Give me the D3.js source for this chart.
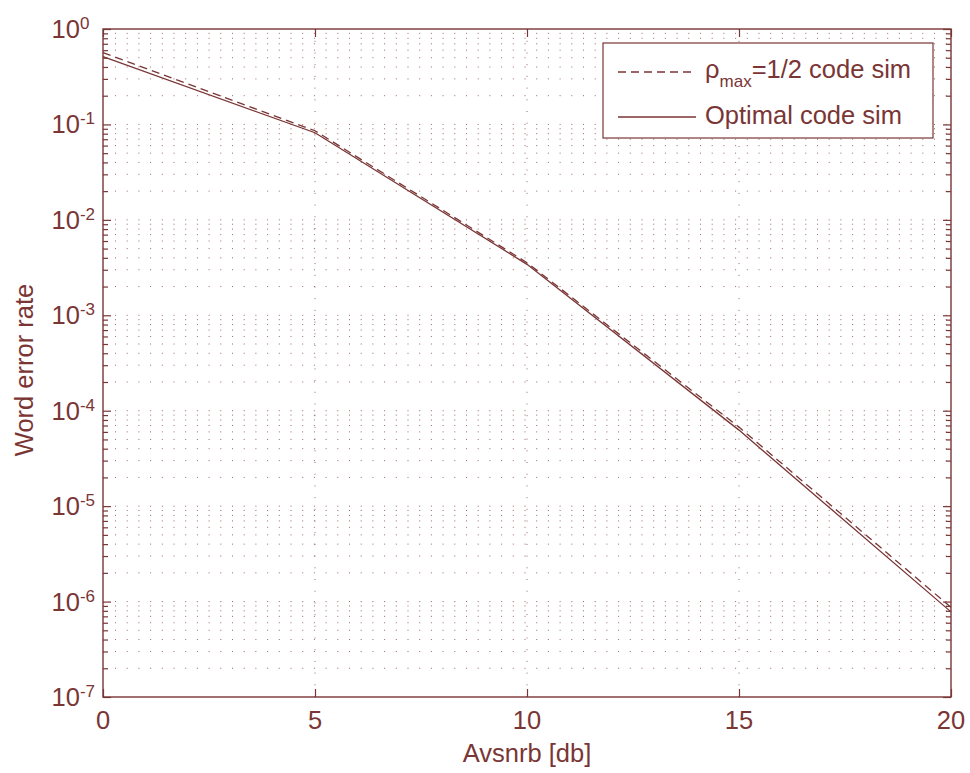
<!DOCTYPE html>
<html>
<head>
<meta charset="utf-8">
<script src="https://cdn.jsdelivr.net/npm/d3@7"></script>
<style>
  body { margin: 0; background: #fff; }
  svg { display: block; }
  text { font-family: "Liberation Sans", Arial, sans-serif; fill: #7a3535; }
</style>
</head>
<body>
<svg id="chart" width="970" height="773"></svg>
<script>
// data
var snr = [0, 5, 10, 15, 20];
var halfCode = [0.565, 0.0859, 0.00356, 6.73e-5, 8.7e-7];   // dashed
var optimalCode = [0.513, 0.0818, 0.00342, 6.26e-5, 7.8e-7]; // solid
var xTicks = [0, 5, 10, 15, 20];
var yExponents = [0, -1, -2, -3, -4, -5, -6, -7];

var col = "#7a3535";
var plotLeft = 103, plotRight = 951, plotTop = 29, plotBottom = 697;

var svg = d3.select("#chart");

var x = d3.scaleLinear().domain([0, 20]).range([plotLeft, plotRight]);
var y = d3.scaleLog().domain([1e-7, 1]).range([plotBottom, plotTop]);

var majors = yExponents.map(e => Math.pow(10, e));
var minors = [];
yExponents.forEach(function(e) {
  if (e === 0) return;
  for (var m = 2; m <= 9; m++) minors.push(m * Math.pow(10, e));
});

// dotted grid
var grid = svg.append("g")
  .attr("stroke", col)
  .attr("stroke-opacity", 0.75)
  .attr("stroke-width", 1)
  .attr("stroke-dasharray", "1,10.7");

grid.selectAll("line.h")
  .data(majors.concat(minors).filter(v => v < 1 && v > 1e-7))
  .enter().append("line")
  .attr("x1", plotLeft + 12).attr("x2", plotRight)
  .attr("y1", d => y(d)).attr("y2", d => y(d));

grid.selectAll("line.v")
  .data([5, 10, 15])
  .enter().append("line")
  .attr("x1", d => x(d)).attr("x2", d => x(d))
  .attr("y1", plotBottom).attr("y2", plotTop);

// ticks (inward)
function styleAxis(g) {
  g.select(".domain").remove();
  g.selectAll("line").attr("stroke", col).attr("stroke-width", 1.2);
}
svg.append("g").attr("transform", "translate(" + plotLeft + ",0)")
  .call(d3.axisLeft(y).tickValues(majors).tickSize(-8).tickFormat("")).call(styleAxis);
svg.append("g").attr("transform", "translate(" + plotLeft + ",0)")
  .call(d3.axisLeft(y).tickValues(minors).tickSize(-5).tickFormat("")).call(styleAxis);
svg.append("g").attr("transform", "translate(" + plotRight + ",0)")
  .call(d3.axisRight(y).tickValues(majors).tickSize(-8).tickFormat("")).call(styleAxis);
svg.append("g").attr("transform", "translate(" + plotRight + ",0)")
  .call(d3.axisRight(y).tickValues(minors).tickSize(-5).tickFormat("")).call(styleAxis);
svg.append("g").attr("transform", "translate(0," + plotBottom + ")")
  .call(d3.axisBottom(x).tickValues(xTicks).tickSize(-8).tickFormat("")).call(styleAxis);
svg.append("g").attr("transform", "translate(0," + plotTop + ")")
  .call(d3.axisTop(x).tickValues(xTicks).tickSize(-8).tickFormat("")).call(styleAxis);

// box
svg.append("rect")
  .attr("x", plotLeft).attr("y", plotTop)
  .attr("width", plotRight - plotLeft).attr("height", plotBottom - plotTop)
  .attr("fill", "none").attr("stroke", col).attr("stroke-width", 1.4);

// y tick labels 10^k
var yl = svg.append("g").selectAll("text")
  .data(yExponents)
  .enter().append("text")
  .attr("x", 51.5)
  .attr("y", d => y(Math.pow(10, d)) + 9)
  .attr("font-size", 25.5);
yl.append("tspan").text("10");
yl.append("tspan").attr("dy", -9).attr("font-size", 17).text(d => d);

// x tick labels
svg.append("g").selectAll("text")
  .data(xTicks)
  .enter().append("text")
  .attr("x", d => x(d)).attr("y", 729)
  .attr("text-anchor", "middle")
  .attr("font-size", 25.5)
  .text(d => d);

// axis titles
svg.append("text")
  .attr("x", 527).attr("y", 762)
  .attr("text-anchor", "middle").attr("font-size", 25.5)
  .text("Avsnrb [db]");
svg.append("text")
  .attr("transform", "translate(33,370) rotate(-90)")
  .attr("text-anchor", "middle").attr("font-size", 25.5)
  .text("Word error rate");

// lines
var line = d3.line().x((d, i) => x(snr[i])).y(d => y(d));
svg.append("path").datum(halfCode)
  .attr("d", line).attr("fill", "none")
  .attr("stroke", col).attr("stroke-width", 1.3)
  .attr("stroke-dasharray", "8,5");
svg.append("path").datum(optimalCode)
  .attr("d", line).attr("fill", "none")
  .attr("stroke", col).attr("stroke-width", 1.3);

// legend
var lg = svg.append("g");
lg.append("rect")
  .attr("x", 603).attr("y", 43)
  .attr("width", 330).attr("height", 95)
  .attr("fill", "#fff").attr("stroke", col).attr("stroke-width", 1.2);
lg.append("line")
  .attr("x1", 618).attr("x2", 696).attr("y1", 72).attr("y2", 72)
  .attr("stroke", col).attr("stroke-width", 1.3).attr("stroke-dasharray", "8,5");
lg.append("line")
  .attr("x1", 618).attr("x2", 696).attr("y1", 117).attr("y2", 117)
  .attr("stroke", col).attr("stroke-width", 1.3);
var t1 = lg.append("text").attr("x", 705).attr("y", 78).attr("font-size", 25.5);
t1.append("tspan").text("ρ");
t1.append("tspan").attr("dy", 9).attr("font-size", 17).text("max");
t1.append("tspan").attr("dy", -9).text("=1/2 code sim");
lg.append("text").attr("x", 705).attr("y", 124).attr("font-size", 25.5)
  .text("Optimal code sim");
</script>
</body>
</html>
